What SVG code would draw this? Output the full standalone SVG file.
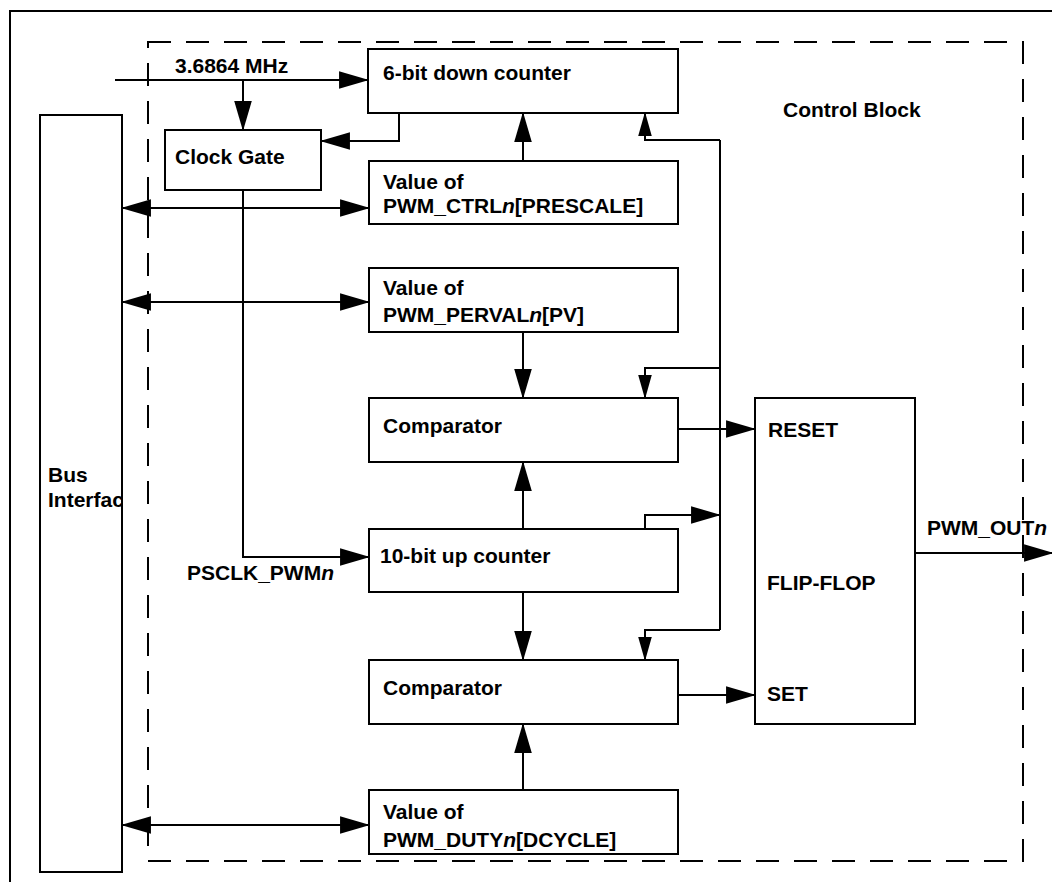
<svg xmlns="http://www.w3.org/2000/svg" width="1052" height="882" viewBox="0 0 1052 882">
<style>
.t{font-family:"Liberation Sans",Arial,Helvetica,sans-serif;font-weight:bold;font-size:21px;fill:#000}
.i{font-style:italic}
.box{fill:#fff;stroke:#000;stroke-width:2}
.ln{fill:none;stroke:#000;stroke-width:2}
.big{marker-end:url(#ab)}
.sm{marker-end:url(#as)}
.bi{marker-end:url(#ab);marker-start:url(#abs)}
</style>
<defs>
<marker id="ab" markerUnits="userSpaceOnUse" markerWidth="30" markerHeight="18" viewBox="0 0 29 17" refX="28" refY="8.5" orient="auto"><path d="M0,0 L29,8.5 L0,17 z" fill="#000"/></marker>
<marker id="abs" markerUnits="userSpaceOnUse" markerWidth="30" markerHeight="18" viewBox="0 0 29 17" refX="28" refY="8.5" orient="auto-start-reverse"><path d="M0,0 L29,8.5 L0,17 z" fill="#000"/></marker>
<marker id="as" markerUnits="userSpaceOnUse" markerWidth="24" markerHeight="14" viewBox="0 0 23 13" refX="22" refY="6.5" orient="auto"><path d="M0,0 L23,6.5 L0,13 z" fill="#000"/></marker>
<clipPath id="busclip"><rect x="40" y="115" width="82" height="757"/></clipPath>
</defs>
<rect width="1052" height="882" fill="#fff"/>
<g id="frame">
<path class="ln" d="M10,882 L10,11 L1052,11"/>
</g>
<g id="control-block">
<rect x="148" y="42" width="875" height="819" fill="none" stroke="#000" stroke-width="2" stroke-dasharray="23 15"/>
<text class="t" x="783" y="117">Control Block</text>
</g>
<g id="bus-interface">
<rect class="box" x="40" y="115" width="82" height="757"/>
<text class="t" x="48" y="482" clip-path="url(#busclip)">Bus</text>
<text class="t" x="48" y="507" clip-path="url(#busclip)">Interfac</text>
</g>
<g id="down-counter">
<rect class="box" x="368" y="49" width="310" height="64"/>
<text class="t" x="383" y="80">6-bit down counter</text>
</g>
<g id="clock-gate">
<rect class="box" x="165" y="130" width="156" height="60"/>
<text class="t" x="175" y="164">Clock Gate</text>
</g>
<g id="ctrl-value">
<rect class="box" x="369" y="161" width="309" height="63"/>
<text class="t" x="383" y="189">Value of</text>
<text class="t" x="383" y="213">PWM_CTRL<tspan class="i">n</tspan>[PRESCALE]</text>
</g>
<g id="perval-value">
<rect class="box" x="369" y="268" width="309" height="64"/>
<text class="t" x="383" y="295">Value of</text>
<text class="t" x="383" y="322">PWM_PERVAL<tspan class="i">n</tspan>[PV]</text>
</g>
<g id="comparator-1">
<rect class="box" x="369" y="398" width="309" height="64"/>
<text class="t" x="383" y="433">Comparator</text>
</g>
<g id="up-counter">
<rect class="box" x="369" y="529" width="309" height="63"/>
<text class="t" x="380" y="563">10-bit up counter</text>
</g>
<g id="comparator-2">
<rect class="box" x="369" y="660" width="309" height="64"/>
<text class="t" x="383" y="695">Comparator</text>
</g>
<g id="duty-value">
<rect class="box" x="369" y="790" width="309" height="64"/>
<text class="t" x="383" y="819">Value of</text>
<text class="t" x="383" y="847">PWM_DUTY<tspan class="i">n</tspan>[DCYCLE]</text>
</g>
<g id="flip-flop">
<rect class="box" x="755" y="398" width="160" height="326"/>
<text class="t" x="768" y="437">RESET</text>
<text class="t" x="767" y="590">FLIP-FLOP</text>
<text class="t" x="767" y="701">SET</text>
</g>
<g id="connectors">
<path class="ln big" d="M115,80 L368,80"/>
<path class="ln big" d="M243,80 L243,130"/>
<path class="ln big" d="M399,113 L399,141 L321,141"/>
<path class="ln big" d="M523,161 L523,113"/>
<path class="ln" d="M720,140 L720,630"/>
<path class="ln sm" d="M720,140 L645,140 L645,113"/>
<path class="ln sm" d="M720,368 L645,368 L645,398"/>
<path class="ln sm" d="M720,630 L645,630 L645,660"/>
<path class="ln big" d="M645,529 L645,515 L720,515"/>
<path class="ln bi" d="M122,208 L369,208"/>
<path class="ln bi" d="M122,302 L369,302"/>
<path class="ln bi" d="M122,825 L369,825"/>
<path class="ln big" d="M523,332 L523,398"/>
<path class="ln big" d="M523,529 L523,462"/>
<path class="ln big" d="M523,592 L523,660"/>
<path class="ln big" d="M523,790 L523,724"/>
<path class="ln big" d="M243,190 L243,557 L369,557"/>
<path class="ln big" d="M678,429 L755,429"/>
<path class="ln big" d="M678,695 L755,695"/>
<path class="ln big" d="M915,553 L1053,553"/>
<text class="t" x="175" y="73">3.6864 MHz</text>
<text class="t" x="187" y="580">PSCLK_PWM<tspan class="i">n</tspan></text>
<text class="t" x="927" y="535">PWM_OUT<tspan class="i">n</tspan></text>
</g>
</svg>
